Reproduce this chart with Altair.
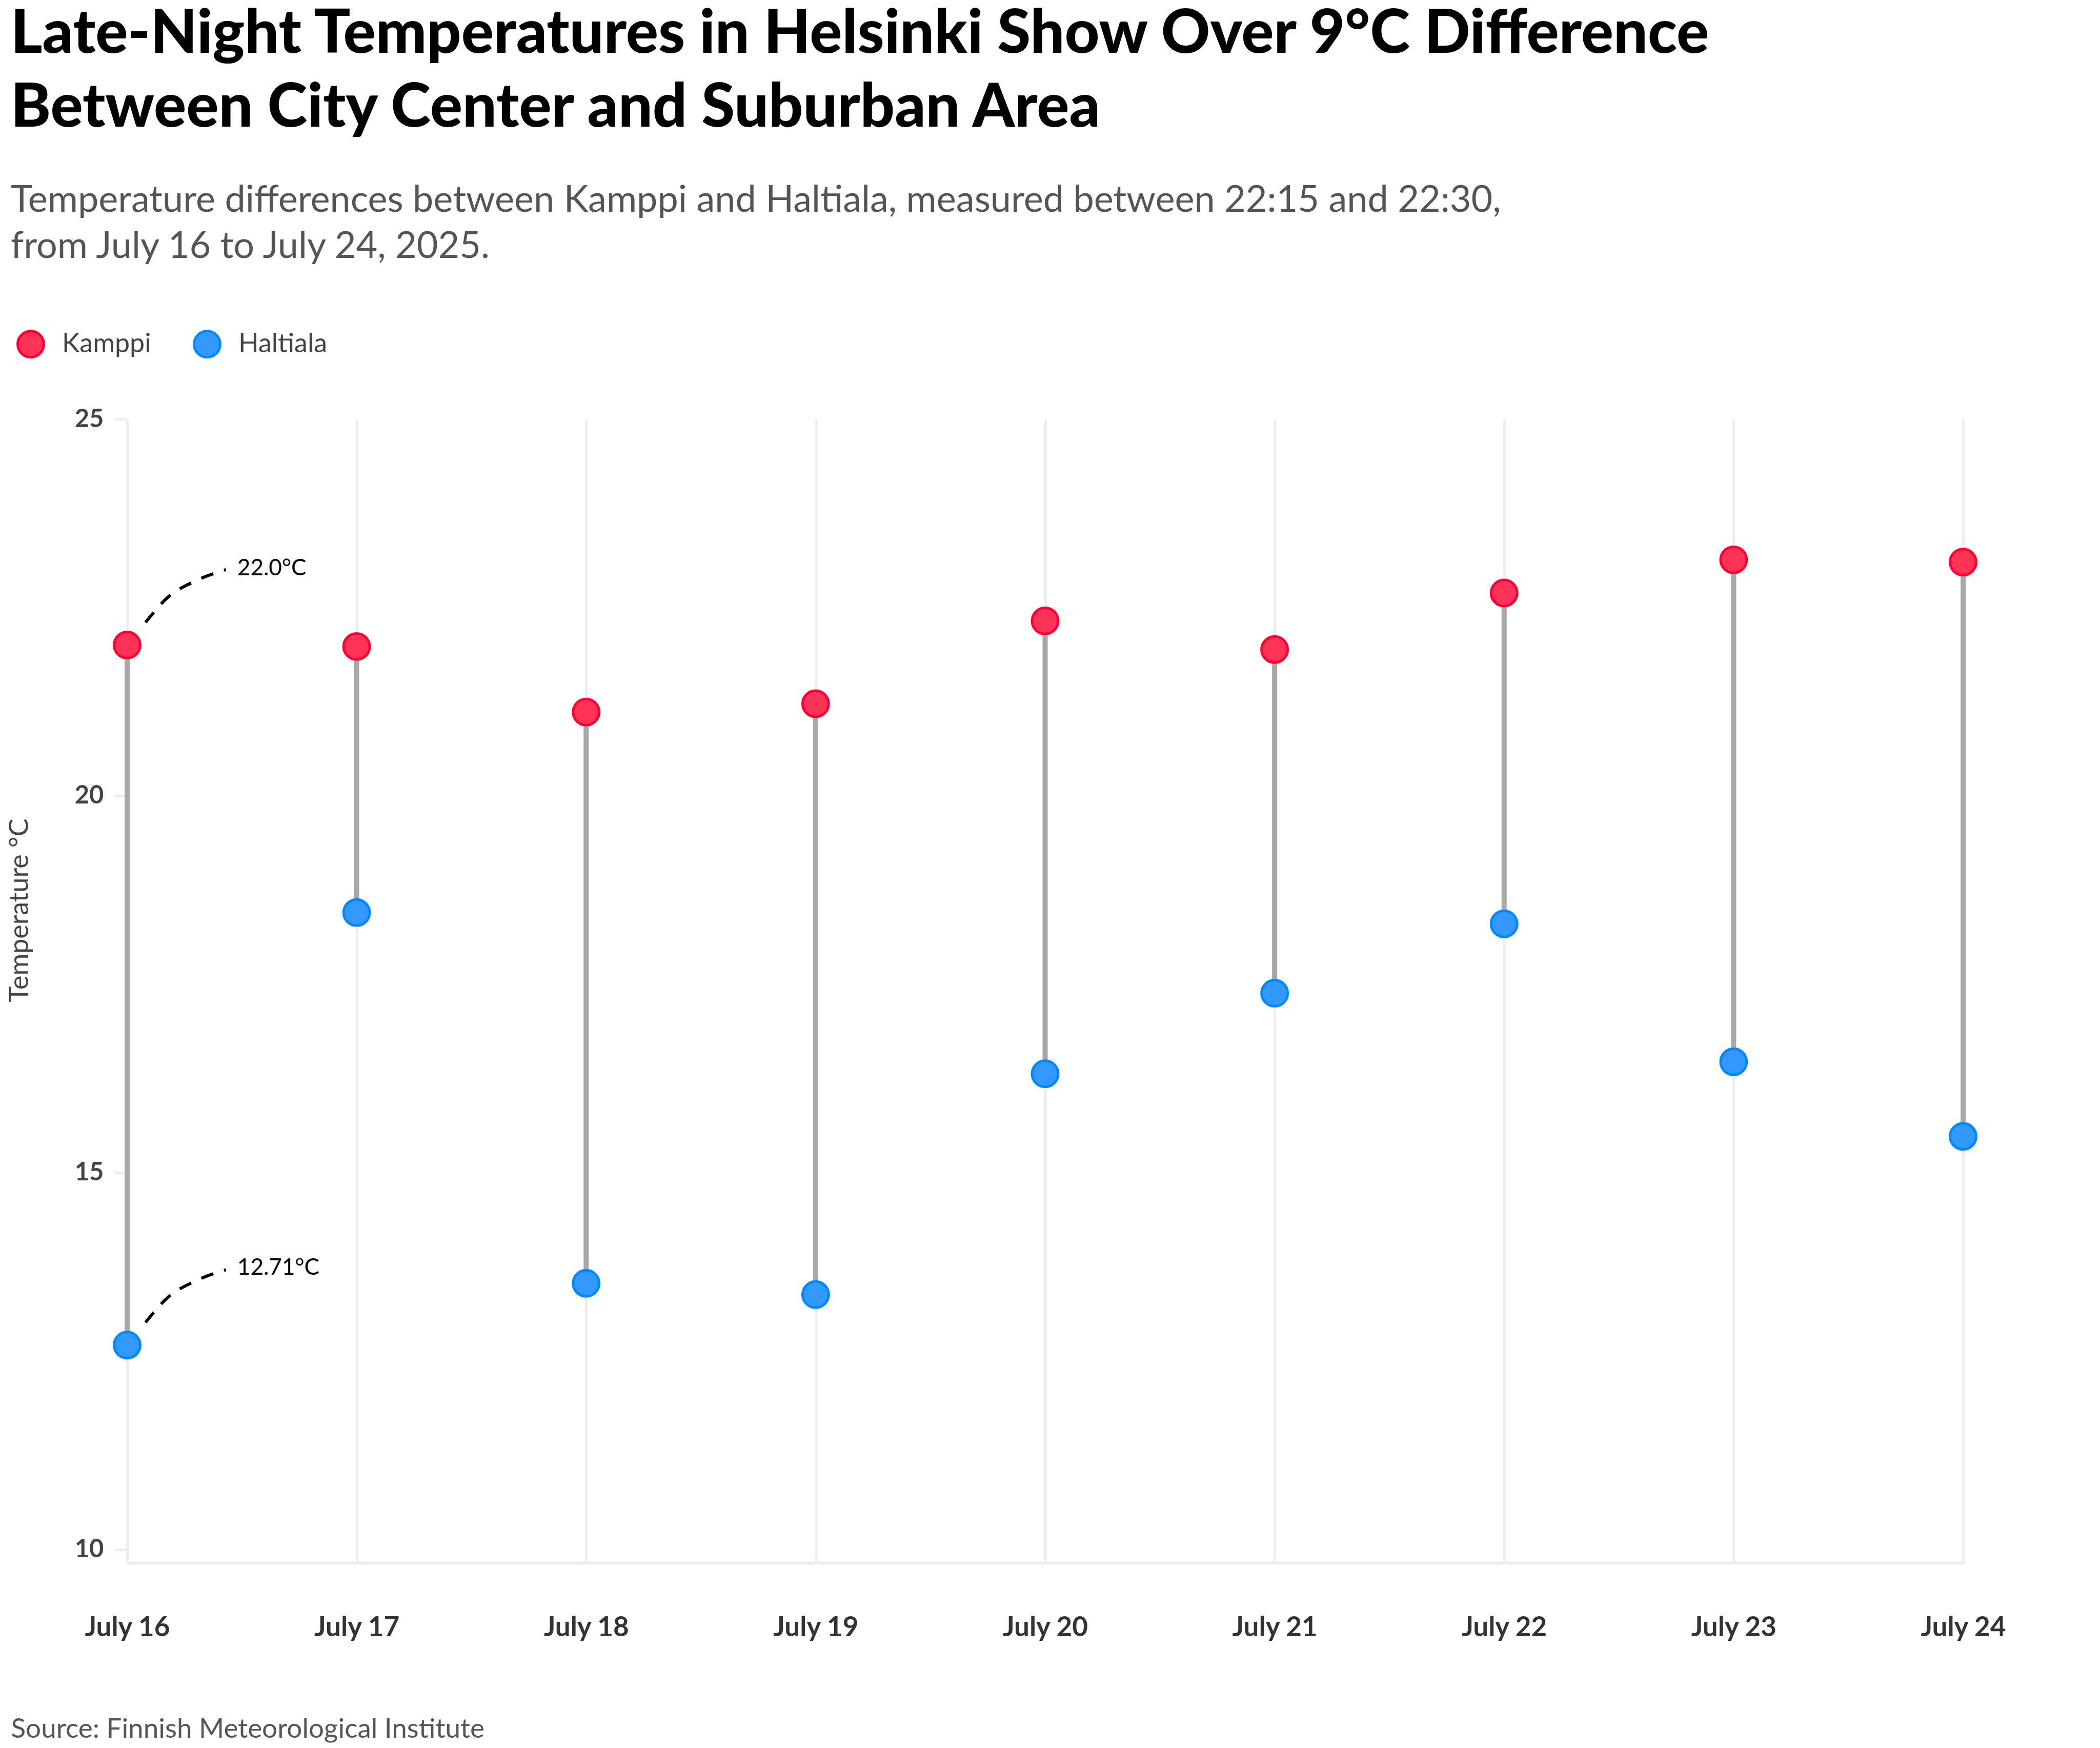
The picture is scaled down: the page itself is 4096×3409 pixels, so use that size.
import altair as alt
import pandas as pd

# ---- data ----
days = [16, 17, 18, 19, 20, 21, 22, 23, 24]
kamppi = [22.0, 21.98, 21.11, 21.22, 22.32, 21.94, 22.69, 23.13, 23.10]
haltiala = [12.71, 18.45, 13.53, 13.38, 16.31, 17.38, 18.30, 16.47, 15.48]
stations = ["Kamppi", "Haltiala"]
fill_colors = ["#ff3358", "#3399ff"]
stroke_colors = ["#ff0033", "#0088ff"]

# annotation leader curves (day, temperature) and their labels
curve_days = [16.08, 16.18, 16.29, 16.43]
curve_high = [22.30, 22.64, 22.84, 23.00]
curve_low = [13.01, 13.35, 13.55, 13.71]
label_days = [16.48, 16.48]
label_temps = [23.01, 13.73]
label_texts = ["22.0°C", "12.71°C"]

FONT = "Lato"

wide = pd.DataFrame({"day": days, "Kamppi": kamppi, "Haltiala": haltiala})
long = pd.concat([
    pd.DataFrame({"day": days, "temp": kamppi, "Station": "Kamppi"}),
    pd.DataFrame({"day": days, "temp": haltiala, "Station": "Haltiala"}),
])
curves = pd.concat([
    pd.DataFrame({"day": curve_days, "temp": curve_high, "curve": "high"}),
    pd.DataFrame({"day": curve_days, "temp": curve_low, "curve": "low"}),
])
labels = pd.DataFrame({"day": label_days, "temp": label_temps, "text": label_texts})

W, H = 3581, 2231
PAD_L, PAD_T = 248, 817

xscale = alt.Scale(domain=[16, 24], nice=False, zero=False)
yscale = alt.Scale(domain=[9.82, 25], nice=False, zero=False)

xaxis = alt.Axis(
    values=days, labelExpr="'July ' + datum.value", labelFlush=False,
    labelFont=FONT, labelFontWeight="bold", labelFontSize=53, labelColor="#333333",
    ticks=False, tickSize=0, labelPadding=100,
    domainColor="#eeeeee", domainWidth=5.5,
    grid=True, gridColor="#eeeeee", gridWidth=5,
    title="Source: Finnish Meteorological Institute",
    titleFont=FONT, titleFontWeight="normal", titleFontSize=53, titleColor="#555555",
    titleX=-227, titleY=324, titleAlign="left", titleAnchor="start", titleBaseline="middle",
    titleAngle=0,
)
yaxis = alt.Axis(
    values=[10, 15, 20, 25], domain=False, grid=False,
    labelFont=FONT, labelFontWeight="bold", labelFontSize=49, labelColor="#444444",
    tickColor="#eeeeee", tickWidth=5.5, tickSize=25, labelPadding=21,
    title="Temperature °C", titleFont=FONT, titleFontWeight="normal", titleFontSize=52,
    titleColor="#444444", titleAngle=-90, titleX=-194, titleY=958,
    titleAlign="center", titleBaseline="alphabetic",
)

X = alt.X("day:Q", scale=xscale, axis=xaxis)

rules = alt.Chart(wide).mark_rule(color="#a8a8a8", strokeWidth=10).encode(
    x=X,
    y=alt.Y("Haltiala:Q", scale=yscale, axis=yaxis),
    y2="Kamppi:Q",
)

leaders = alt.Chart(curves).mark_line(
    color="black", strokeWidth=6, strokeDash=[25, 22], interpolate="monotone"
).encode(
    x=X,
    y=alt.Y("temp:Q", scale=yscale, axis=yaxis),
    detail="curve:N",
)

ann = alt.Chart(labels).mark_text(
    align="left", baseline="middle", font=FONT, fontSize=44, color="black"
).encode(
    x=X,
    y=alt.Y("temp:Q", scale=yscale, axis=yaxis),
    text="text:N",
)

legend = alt.Legend(
    orient="none", legendX=-216, legendY=-174, direction="horizontal", title=None,
    labelFont=FONT, labelFontSize=52, labelColor="#444444", labelLimit=0,
    symbolType="circle", symbolSize=2590, symbolStrokeWidth=5,
    labelOffset=33, columnPadding=73, padding=0,
)

points = alt.Chart(long).mark_circle(size=2590, opacity=1, strokeWidth=5).encode(
    x=X,
    y=alt.Y("temp:Q", scale=yscale, axis=yaxis),
    fill=alt.Fill("Station:N", scale=alt.Scale(domain=stations, range=fill_colors), legend=legend),
    stroke=alt.Stroke("Station:N", scale=alt.Scale(domain=stations, range=stroke_colors), legend=legend),
)

chart = alt.layer(rules, leaders, ann, points).properties(
    width=W, height=H,
    autosize=alt.AutoSizeParams(type="none"),
    padding={"left": PAD_L, "top": PAD_T, "right": 4096 - PAD_L - W, "bottom": 3409 - PAD_T - H},
    background="white",
    title=alt.TitleParams(
        text=["Late-Night Temperatures in Helsinki Show Over 9°C Difference",
              "Between City Center and Suburban Area"],
        subtitle=["Temperature differences between Kamppi and Haltiala, measured between 22:15 and 22:30,",
                  "from July 16 to July 24, 2025."],
        anchor="start", frame="group", orient="top", dx=-227, offset=125,
        font=FONT, fontSize=118, fontWeight=900, color="black", lineHeight=144,
        subtitleFont=FONT, subtitleFontSize=72, subtitleColor="#555555",
        subtitleLineHeight=90, subtitlePadding=84,
    ),
).configure_view(stroke=None)

chart.save("out.html", embed_options={"renderer": "svg", "actions": False})
